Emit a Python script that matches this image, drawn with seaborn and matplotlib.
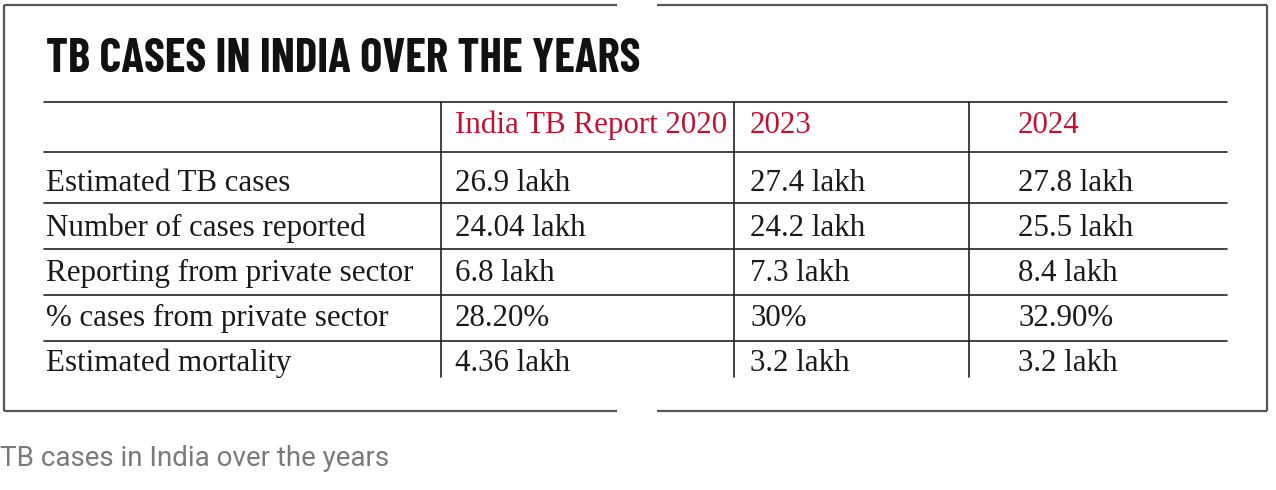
import matplotlib
matplotlib.use("Agg")
import matplotlib.pyplot as plt
import seaborn as sns

# table content
title = "TB CASES IN INDIA OVER THE YEARS"
caption = "TB cases in India over the years"
columns = ["India TB Report 2020", "2023", "2024"]
row_labels = [
    "Estimated TB cases",
    "Number of cases reported",
    "Reporting from private sector",
    "% cases from private sector",
    "Estimated mortality",
]
report_2020 = ["26.9 lakh", "24.04 lakh", "6.8 lakh", "28.20%", "4.36 lakh"]
year_2023 = ["27.4 lakh", "24.2 lakh", "7.3 lakh", "30%", "3.2 lakh"]
year_2024 = ["27.8 lakh", "25.5 lakh", "8.4 lakh", "32.90%", "3.2 lakh"]

sns.set_theme(style="white")

W, H = 1276, 490
fig = plt.figure(figsize=(W / 100, H / 100), dpi=100)
ax = fig.add_axes([0, 0, 1, 1])
ax.set_xlim(0, W)
ax.set_ylim(H, 0)
ax.axis("off")

serif = ["Liberation Serif", "DejaVu Serif"]
narrow = ["Barlow Condensed", "Roboto Condensed", "DejaVu Sans"]
red = "#c4112f"
ink = "#1a1a1a"

# outer frame with the little gap top and bottom
frame_l, frame_r, frame_t, frame_b = 4, 1267, 5, 411
gap_l, gap_r = 617, 657
kw = dict(color="#555555", lw=1.6, solid_capstyle="butt")
ax.plot([frame_l, frame_l], [frame_t, frame_b], **kw)
ax.plot([frame_r, frame_r], [frame_t, frame_b], **kw)
for yy in (frame_t, frame_b):
    ax.plot([frame_l, gap_l], [yy, yy], **kw)
    ax.plot([gap_r, frame_r], [yy, yy], **kw)

ax.text(46, 72, title, fontsize=33.8, fontweight="bold", family=narrow,
        color="#111111", va="baseline", ha="left")

# grid
tbl_l, tbl_r = 44, 1227
header_top, header_bot = 102, 152
first_line, row_h = 203, 46
col_x = [441, 734, 969]
text_x = [455, 750, 1018]
n = len(row_labels)
hlines = [header_top, header_bot] + [first_line + row_h * i for i in range(n - 1)]
for yy in hlines:
    ax.plot([tbl_l, tbl_r], [yy, yy], color="#222222", lw=1.2)
grid_bottom = 377
for xx in col_x:
    ax.plot([xx, xx], [header_top, grid_bottom], color="#222222", lw=1.2)

fs = 22.3
for j, col in enumerate(columns):
    ax.text(text_x[j], 133, col, fontsize=fs, family=serif, color=red,
            va="baseline", ha="left")

values = [report_2020, year_2023, year_2024]
for i, lab in enumerate(row_labels):
    yb = 191 + 45 * i
    ax.text(46, yb, lab, fontsize=fs, family=serif, color=ink, va="baseline", ha="left")
    for j, col_vals in enumerate(values):
        ax.text(text_x[j], yb, col_vals[i], fontsize=fs, family=serif, color=ink,
                va="baseline", ha="left")

ax.text(0, 466, caption, fontsize=20, family=["Roboto", "DejaVu Sans"],
        color="#7a7a7a", va="baseline", ha="left")

fig.savefig("out.png", dpi=100)
